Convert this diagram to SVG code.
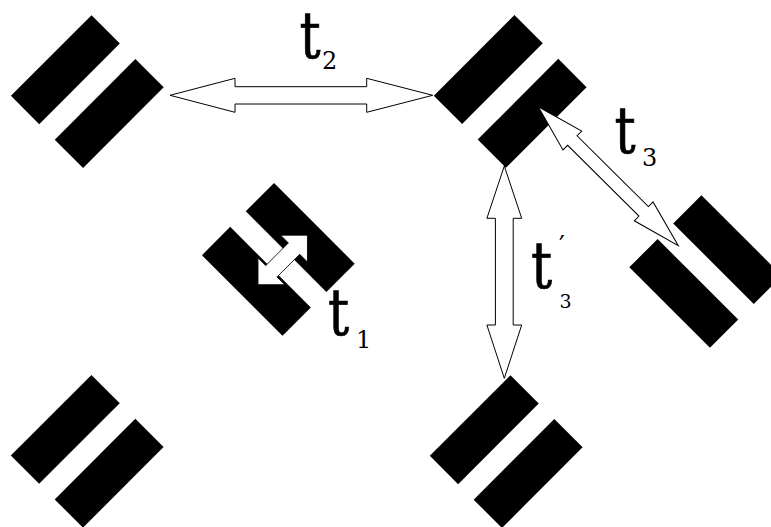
<svg xmlns="http://www.w3.org/2000/svg" xmlns:xlink="http://www.w3.org/1999/xlink" width="771" height="527" viewBox="0 0 771 527">
  <style>
    .bar { fill: #000; }
    .arrow { fill: #fff; stroke: #000; stroke-width: 1; stroke-linejoin: miter; }
    .warrow { fill: #fff; stroke: #000; stroke-width: 0.8; }
    text { font-family: "DejaVu Serif", "Liberation Serif", "Times New Roman", Times, serif; fill: #000; }
    .big { font-size: 66px; stroke: #000; stroke-width: 0.7; }
    .sub { font-size: 24px; }
  </style>
  <defs>
    <g id="pair">
      <rect class="bar" x="-57" y="-51" width="114" height="40"/>
      <rect class="bar" x="-57" y="11" width="114" height="40"/>
    </g>
  </defs>
  <rect width="771" height="527" fill="#fff"/>

  <g id="node-top-left" transform="translate(87.3,91.6) rotate(-45)"><use xlink:href="#pair"/></g>
  <g id="node-top-right" transform="translate(510.2,91.4) rotate(-45)"><use xlink:href="#pair"/></g>
  <g id="node-bottom-left" transform="translate(87.2,451.3) rotate(-45)"><use xlink:href="#pair"/></g>
  <g id="node-bottom-middle" transform="translate(506.2,451.6) rotate(-45)"><use xlink:href="#pair"/></g>
  <g id="node-right" transform="translate(705.7,271.5) rotate(45)"><use xlink:href="#pair"/></g>
  <g id="node-middle" transform="translate(278.3,259.4) rotate(45)">
    <use xlink:href="#pair"/>
    <polygon class="warrow" transform="translate(3.5,-2.75)" points="0,-35 19,-16 8,-16 8,16 19,16 0,35 -19,16 -8,16 -8,-16 -19,-16"/>
  </g>

  <g id="connectors">
    <polygon id="arrow-t2" class="arrow" points="170,95.3 235,78.3 235,86.7 366.7,86.7 366.7,78.3 432.7,95.3 366.7,112.3 366.7,104 235,104 235,112.3"/>
    <polygon id="arrow-t3p" class="arrow" points="504.3,166 521.7,218.3 513.2,218.3 513.2,325 521.7,325 504.3,378.3 486.9,325 495.4,325 495.4,218.3 486.9,218.3"/>
    <polygon id="arrow-t3" class="arrow" transform="translate(538.3,106.7) rotate(44.8)" points="0,0 48,-13.3 48,-6.7 148.5,-6.7 148.5,-13.3 197.3,0 148.5,13.3 148.5,6.7 48,6.7 48,13.3"/>
  </g>

  <g id="labels">
    <text class="big" transform="translate(299.5,58.3) scale(0.8,1)">t</text>
    <text class="sub" x="322" y="69.3">2</text>

    <text class="big" transform="translate(614.5,153.3) scale(0.8,1)">t</text>
    <text class="sub" x="642" y="165.7">3</text>

    <text class="big" transform="translate(531,288.3) scale(0.8,1)">t</text>
    <text font-size="26" x="559" y="254">′</text>
    <text font-size="19" x="559.5" y="308.3">3</text>

    <text class="big" transform="translate(328,335) scale(0.8,1)">t</text>
    <text class="sub" x="356" y="348.3">1</text>
  </g>
</svg>
